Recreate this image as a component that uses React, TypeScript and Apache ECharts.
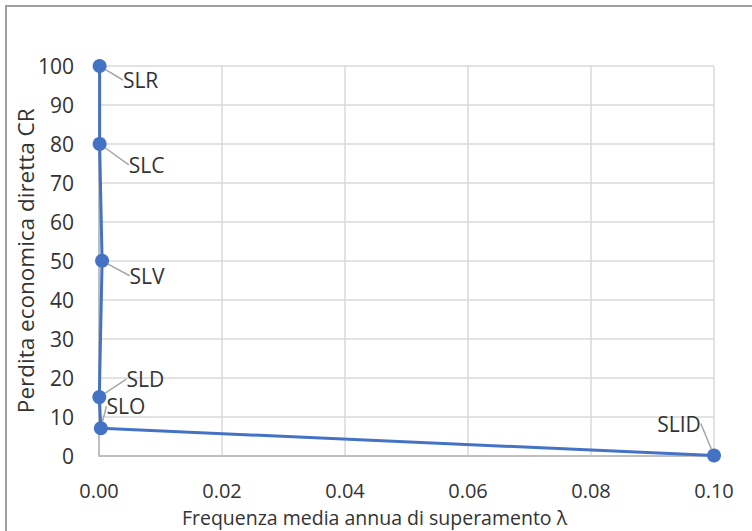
import React, { useEffect, useRef } from "react";
import * as echarts from "echarts";

const stateLabels = ["SLID", "SLO", "SLD", "SLV", "SLC", "SLR"];
const lambdaValues = [0.1, 0.0003, 0.00005, 0.0005, 0.0001, 0.0001];
const crValues = [0, 7, 15, 50, 80, 100];

const xTicks = { min: 0, max: 0.1, interval: 0.02 };
const yTicks = { min: 0, max: 100, interval: 10 };

// label displacement (styling only)
const labelShift: Record<string, [number, number]> = {
  SLID: [-35, -32],
  SLO: [25, -22],
  SLD: [46, -18],
  SLV: [45, 15],
  SLC: [47, 21],
  SLR: [41, 14],
};

const FONT = "Open Sans";
const TXT = "#333333";

export default function App() {
  const ref = useRef<HTMLDivElement>(null);
  useEffect(() => {
    if (!ref.current) return;
    const chart = echarts.init(ref.current, null, { renderer: "svg" });
    const data = stateLabels.map((s, i) => ({
      name: s,
      value: [lambdaValues[i], crValues[i]],
    }));
    chart.setOption({
      animation: false,
      backgroundColor: "#ffffff",
      textStyle: { fontFamily: FONT },
      grid: {
        left: 99,
        right: 38,
        top: 66,
        bottom: 75.5,
        containLabel: false,
        outerBoundsMode: "none",
      },
      graphic: [
        {
          type: "rect",
          shape: { x: 6, y: 6, width: 800, height: 600 },
          style: { fill: "none", stroke: "#a0a0a0", lineWidth: 2 },
          silent: true,
        },
      ],
      xAxis: {
        type: "value",
        min: xTicks.min,
        max: xTicks.max,
        interval: xTicks.interval,
        name: "Frequenza media annua di superamento λ",
        nameLocation: "middle",
        nameGap: 52,
        nameMoveOverlap: false,
        nameTextStyle: {
          fontFamily: FONT,
          fontSize: 19.5,
          lineHeight: 19.5,
          color: TXT,
          padding: [0, 64, 0, 0],
        },
        axisLine: { show: true, lineStyle: { color: "#bfbfbf", width: 2 } },
        axisTick: { show: false },
        splitLine: { show: true, lineStyle: { color: "#d9d9d9", width: 1.5 } },
        axisLabel: {
          fontFamily: FONT,
          fontSize: 20,
          lineHeight: 20,
          color: TXT,
          margin: 25,
          formatter: (v: number) => v.toFixed(2),
        },
      },
      yAxis: {
        type: "value",
        min: yTicks.min,
        max: yTicks.max,
        interval: yTicks.interval,
        name: "Perdita economica diretta CR",
        nameLocation: "middle",
        nameGap: 62,
        nameMoveOverlap: false,
        nameTextStyle: { fontFamily: FONT, fontSize: 22.5, color: TXT },
        axisLine: { show: true, lineStyle: { color: "#bfbfbf", width: 2 } },
        axisTick: { show: false },
        splitLine: { show: true, lineStyle: { color: "#d9d9d9", width: 1.5 } },
        axisLabel: { fontFamily: FONT, fontSize: 21, color: TXT, margin: 25 },
      },
      series: [
        {
          type: "line",
          data,
          symbol: "circle",
          symbolSize: 14,
          itemStyle: { color: "#4472C4" },
          lineStyle: { color: "#4472C4", width: 3 },
          label: {
            show: true,
            position: "inside",
            formatter: (p: any) => p.name,
            fontFamily: FONT,
            fontSize: 21,
            color: TXT,
          },
          labelLine: {
            show: true,
            lineStyle: { color: "#a6a6a6", width: 1.5 },
          },
          labelLayout: (p: any) => {
            const s = labelShift[stateLabels[p.dataIndex]];
            return { dx: s[0], dy: s[1] };
          },
          z: 3,
        },
      ],
    });
    return () => chart.dispose();
  }, []);
  return (
    <div
      ref={ref}
      style={{ position: "fixed", left: 0, top: 0, width: 752, height: 531 }}
    />
  );
}
